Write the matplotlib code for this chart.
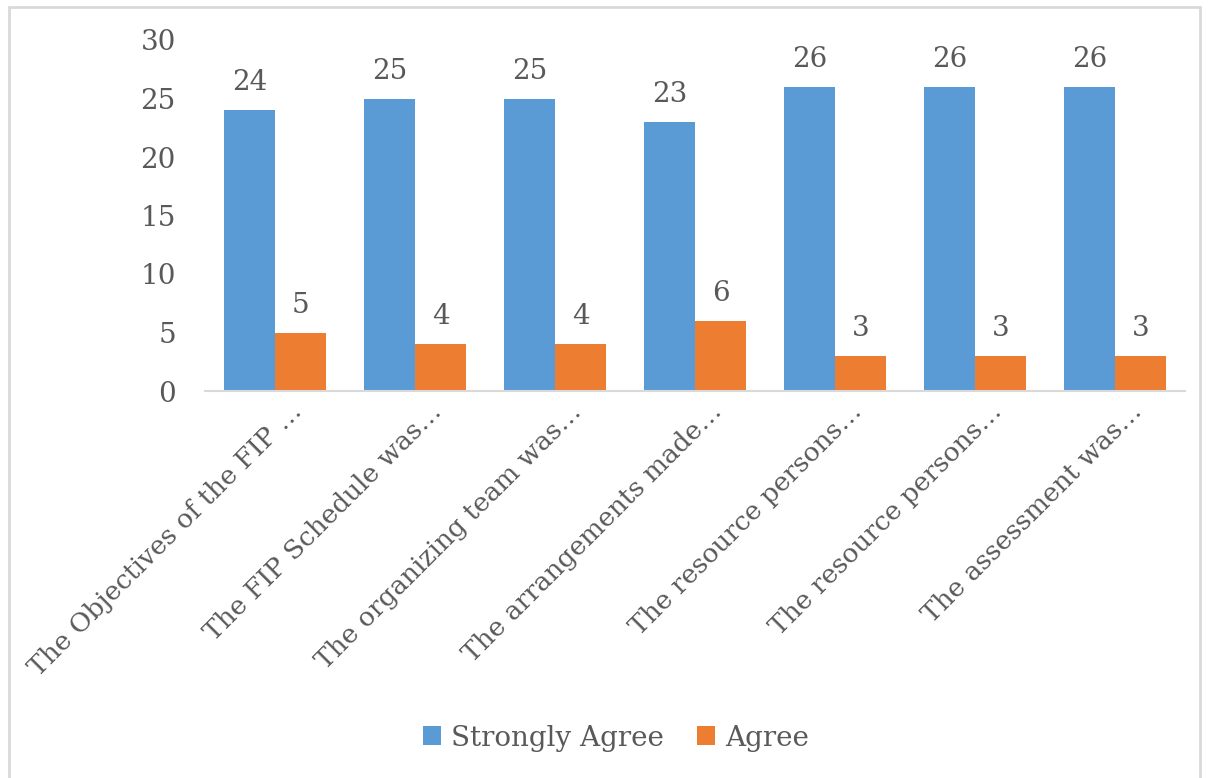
import matplotlib
matplotlib.use("Agg")
import matplotlib.pyplot as plt
import numpy as np
from matplotlib.patches import Rectangle
from matplotlib.transforms import ScaledTranslation

categories = [
    "The Objectives of the FIP \u2026",
    "The FIP Schedule was\u2026",
    "The organizing team was\u2026",
    "The arrangements made\u2026",
    "The resource persons\u2026",
    "The resource persons\u2026",
    "The assessment was\u2026",
]
strongly_agree = [24, 25, 25, 23, 26, 26, 26]
agree = [5, 4, 4, 6, 3, 3, 3]

blue = "#5B9BD5"
orange = "#ED7D31"
text_col = "#595959"

plt.rcParams["font.family"] = ["DejaVu Serif"]
fs = 20

fig = plt.figure(figsize=(12.1, 7.78), dpi=100)
fig.patches.append(Rectangle((9 / 1210, -0.01), (1200 - 9) / 1210, 1.01 - 7 / 778,
                             transform=fig.transFigure, fill=False,
                             edgecolor="#d9d9d9", linewidth=2))
ax = fig.add_axes([205 / 1210, 1 - 391 / 778, 980 / 1210, 351 / 778])

x = np.arange(len(categories))
w = 0.365
b1 = ax.bar(x - w / 2, strongly_agree, w, color=blue, label="Strongly Agree")
b2 = ax.bar(x + w / 2, agree, w, color=orange, label="Agree")

for bars in (b1, b2):
    for r in bars:
        ax.annotate(f"{r.get_height():.0f}", (r.get_x() + r.get_width() / 2, r.get_height()),
                    xytext=(0, 10), textcoords="offset points", ha="center", va="bottom",
                    fontsize=fs, color=text_col)

ax.set_xlim(-0.5, len(categories) - 0.5)
ax.set_ylim(0, 30)
ax.set_yticks(range(0, 31, 5))
ax.set_xticks(x)
ax.tick_params(axis="x", length=0, pad=10)
ax.tick_params(axis="y", length=0, pad=21, labelsize=fs, labelcolor=text_col)
ax.set_xticklabels(categories, rotation=45, ha="right", va="top", rotation_mode="anchor",
                   fontsize=19, color=text_col)
# nudge the slanted labels a bit right/up like the original
shift = ScaledTranslation(0.14, 0.06, fig.dpi_scale_trans)
for lbl in ax.get_xticklabels():
    lbl.set_transform(lbl.get_transform() + shift)
for s in ("top", "right", "left"):
    ax.spines[s].set_visible(False)
ax.spines["bottom"].set_color("#d9d9d9")
ax.spines["bottom"].set_linewidth(1.5)

fig.legend(handles=[b1, b2], loc="center", bbox_to_anchor=(616 / 1210, 1 - 738 / 778), ncol=2,
           frameon=False, fontsize=fs, labelcolor=text_col, handlelength=0.65,
           handleheight=0.65, handletextpad=0.35, columnspacing=1.2)

fig.savefig("out.png", dpi=100)
